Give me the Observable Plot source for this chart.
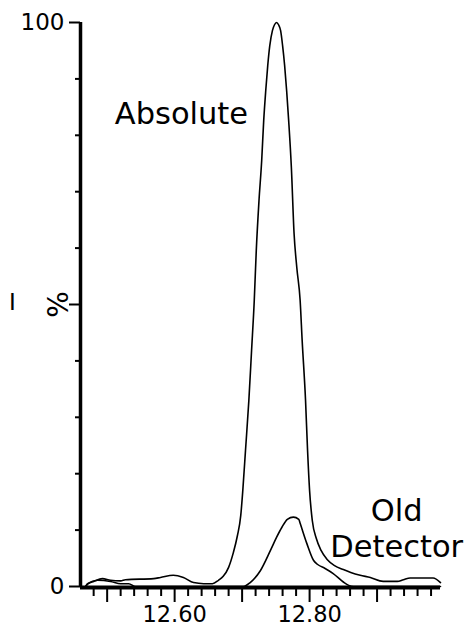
<!DOCTYPE html>
<html>
<head>
<meta charset="utf-8">
<script src="https://cdn.jsdelivr.net/npm/d3@7"></script>
<script src="https://cdn.jsdelivr.net/npm/@observablehq/plot@0.6"></script>
<style>
  html, body { margin: 0; padding: 0; background: #fff; }
  #chart svg { display: block; }
</style>
</head>
<body>
<div id="chart"></div>
<script>
// Chromatogram traces: retention time (min) vs relative intensity (%)
const absoluteTime = [12.468, 12.472, 12.480, 12.493, 12.505, 12.520, 12.527, 12.569, 12.579, 12.598,
  12.613, 12.628, 12.643, 12.656, 12.665, 12.672, 12.680, 12.687, 12.693, 12.698,
  12.701, 12.705, 12.710, 12.714, 12.718, 12.721, 12.725, 12.729, 12.732, 12.735,
  12.738, 12.741, 12.745, 12.748, 12.751, 12.754, 12.757, 12.760, 12.763, 12.766,
  12.769, 12.773, 12.777, 12.781, 12.786, 12.789, 12.794, 12.797, 12.800, 12.804,
  12.810, 12.817, 12.826, 12.837, 12.850, 12.861, 12.875, 12.890, 12.909, 12.930,
  12.939, 12.949, 12.983, 12.994];
const absolutePct = [0, 0.5, 0.9, 1.4, 1.1, 1.0, 1.2, 1.4, 1.6, 2.0,
  1.6, 0.7, 0.5, 0.5, 1.1, 1.8, 3.4, 6.0, 9.0, 12.6,
  17.0, 24.1, 33.0, 41.8, 50.7, 59.6, 68.4, 75.5, 82.6, 87.9,
  92.4, 95.9, 98.6, 99.6, 100, 99.6, 98.6, 95.9, 92.4, 87.9,
  82.6, 74.3, 62.6, 56.6, 50.7, 43.6, 33.0, 24.1, 17.0, 11.7,
  8.5, 6.4, 4.8, 3.7, 3.0, 2.5, 2.0, 1.6, 0.9, 0.9,
  1.2, 1.5, 1.5, 0.7];

const oldTime = [12.468, 12.471, 12.486, 12.505, 12.520, 12.532, 12.542, 12.702, 12.712, 12.727,
  12.742, 12.751, 12.759, 12.767, 12.776, 12.784, 12.786, 12.796, 12.806, 12.812,
  12.823, 12.835, 12.850, 12.858, 12.865, 12.994];
const oldPct = [0, 0.5, 1.1, 0.9, 0.5, 0.5, 0, 0, 0.7, 2.8,
  6.4, 8.7, 10.5, 11.9, 12.3, 11.9, 11.2, 7.6, 4.6, 3.9,
  3.2, 2.3, 0.8, 0.2, 0, 0];

// Axis ticks
const xMajorTicks = [12.5, 12.6, 12.7, 12.8, 12.9];
const xMinorTicks = [12.48, 12.52, 12.54, 12.56, 12.58, 12.62, 12.64, 12.66, 12.68,
  12.72, 12.74, 12.76, 12.78, 12.82, 12.84, 12.86, 12.88, 12.92, 12.94, 12.96, 12.98];
const xTickLabels = ["12.60", "12.80"];
const yMajorTicks = [0, 50, 100];
const yMinorTicks = [10, 20, 30, 40, 60, 70, 80, 90];
const yTickLabels = ["0", "100"];

const xDomain = [12.4605, 12.994];
const yDomain = [0, 100];

const absolute = absoluteTime.map((t, i) => ({t, v: absolutePct[i]}));
const old = oldTime.map((t, i) => ({t, v: oldPct[i]}));

// Trace labels
const absoluteLabel = [{text: "Absolute", t: 12.5113, v: 83.8}];
const oldLabel = [
  {text: "Old", t: 12.929, v: 13.3},
  {text: "Detector", t: 12.929, v: 6.9}
];

const fmtX = d => {
  const s = d.toFixed(2);
  return xTickLabels.includes(s) ? s : "";
};
const fmtY = d => yTickLabels.includes(String(d)) ? String(d) : "";

const chart = Plot.plot({
  width: 469,
  height: 629,
  marginLeft: 80,
  marginRight: 29,
  marginTop: 22,
  marginBottom: 43,
  style: {fontFamily: "DejaVu Sans, Verdana, sans-serif", background: "#fff", color: "#000"},
  x: {domain: xDomain, axis: null},
  y: {domain: yDomain, axis: null},
  marks: [
    // x axis ticks
    Plot.axisX({ticks: xMinorTicks, tickSize: 10, tickFormat: () => "", strokeWidth: 2, label: null}),
    Plot.axisX({ticks: xMajorTicks, tickSize: 16, tickPadding: 4, tickFormat: fmtX, fontSize: 22.5, strokeWidth: 2, label: null}),
    // y axis ticks
    Plot.axisY({ticks: yMinorTicks, tickSize: 5, tickFormat: () => "", strokeWidth: 2, label: null}),
    Plot.axisY({ticks: yMajorTicks, tickSize: 11, tickPadding: 5, tickFormat: fmtY, fontSize: 23, strokeWidth: 2, label: null}),
    // axis lines
    Plot.ruleX([xDomain[0]], {y1: 0, y2: 100, strokeWidth: 3.5, stroke: "#000"}),
    Plot.ruleY([0], {x1: xDomain[0], x2: xDomain[1], strokeWidth: 4, dy: 1, stroke: "#000"}),
    // traces
    Plot.line(old, {x: "t", y: "v", curve: "monotone-x", stroke: "#000", strokeWidth: 1.6}),
    Plot.line(absolute, {x: "t", y: "v", curve: "monotone-x", stroke: "#000", strokeWidth: 1.6}),
    // labels
    Plot.text(absoluteLabel, {x: "t", y: "v", text: "text", textAnchor: "start", fontSize: 30.5, fill: "#000"}),
    Plot.text(oldLabel, {x: "t", y: "v", text: "text", textAnchor: "middle", fontSize: 30.5, fill: "#000"}),
    Plot.text(["%"], {x: [12.4294], y: [50], text: d => d, rotate: -90, fontSize: 28, fill: "#000"}),
    Plot.text(["I"], {x: [12.3597], y: [50.4], text: d => d, fontSize: 23, fill: "#000"})
  ]
});

document.getElementById("chart").appendChild(chart);
</script>
</body>
</html>
